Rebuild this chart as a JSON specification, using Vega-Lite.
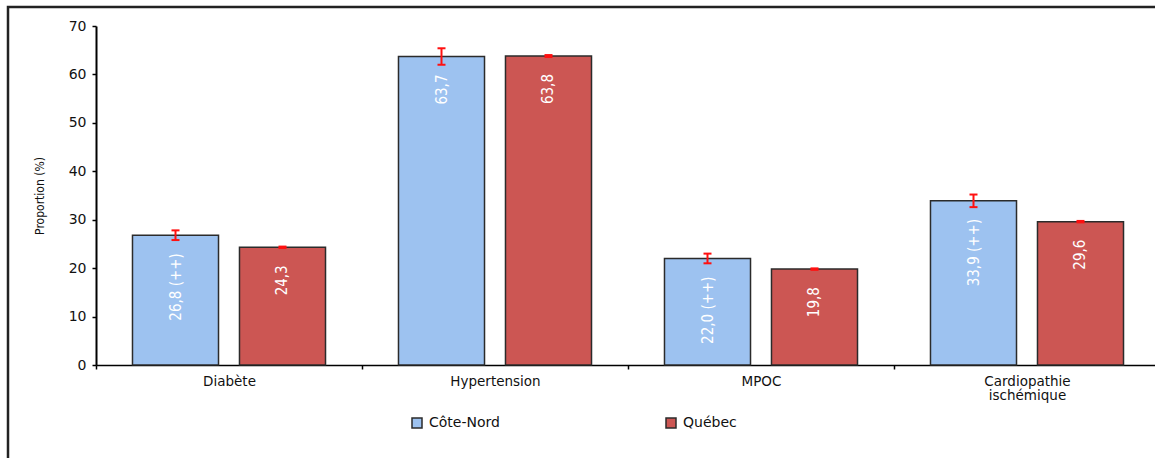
{
  "$schema": "https://vega.github.io/schema/vega-lite/v6.json",
  "width": 1160,
  "height": 460,
  "autosize": {"type": "none"},
  "padding": {"left": 8, "top": 7, "right": 0, "bottom": 0},
  "background": "white",
  "config": {
    "view": {"stroke": "#222222", "strokeWidth": 2.5},
    "legend": {"padding": 0}
  },
  "data": {
    "values": [
      {"cat": "Diabète", "region": "Côte-Nord", "value": 26.8, "lo": 25.8, "hi": 27.8, "label": "26,8 (++)"},
      {"cat": "Diabète", "region": "Québec", "value": 24.3, "lo": 24.15, "hi": 24.45, "label": "24,3"},
      {"cat": "Hypertension", "region": "Côte-Nord", "value": 63.7, "lo": 62.0, "hi": 65.4, "label": "63,7"},
      {"cat": "Hypertension", "region": "Québec", "value": 63.8, "lo": 63.6, "hi": 64.0, "label": "63,8"},
      {"cat": "MPOC", "region": "Côte-Nord", "value": 22.0, "lo": 21.0, "hi": 23.0, "label": "22,0 (++)"},
      {"cat": "MPOC", "region": "Québec", "value": 19.8, "lo": 19.65, "hi": 19.95, "label": "19,8"},
      {"cat": "Cardiopathie ischémique", "region": "Côte-Nord", "value": 33.9, "lo": 32.6, "hi": 35.2, "label": "33,9 (++)"},
      {"cat": "Cardiopathie ischémique", "region": "Québec", "value": 29.6, "lo": 29.45, "hi": 29.75, "label": "29,6"}
    ]
  },
  "encoding": {
    "x": {
      "field": "cat",
      "type": "nominal",
      "sort": null,
      "scale": {"range": [88, 1152], "paddingInner": 0, "paddingOuter": 0},
      "axis": {
        "offset": -102,
        "title": null,
        "labelAngle": 0,
        "tickBand": "extent",
        "domainColor": "#000000",
        "domainWidth": 1.5,
        "tickColor": "#000000",
        "tickSize": 4,
        "tickWidth": 1.5,
        "labelFont": "DejaVu Sans",
        "labelFontSize": 13.5,
        "labelColor": "#111111",
        "labelPadding": 5,
        "labelLineHeight": 14,
        "labelExpr": "datum.value == 'Cardiopathie ischémique' ? ['Cardiopathie', 'ischémique'] : datum.label"
      }
    },
    "xOffset": {
      "field": "region",
      "type": "nominal",
      "scale": {"paddingInner": 0.196, "paddingOuter": 0.341}
    }
  },
  "layer": [
    {
      "mark": {"type": "bar", "stroke": "#2b2b2b", "strokeWidth": 1.5},
      "encoding": {
        "y": {
          "field": "value",
          "type": "quantitative",
          "title": "Proportion (%)",
          "scale": {"domain": [0, 70], "range": [358, 19], "nice": false, "zero": true},
          "axis": {
            "offset": -88,
            "values": [0, 10, 20, 30, 40, 50, 60, 70],
            "grid": false,
            "domainColor": "#000000",
            "domainWidth": 2,
            "tickColor": "#000000",
            "tickSize": 4,
            "tickWidth": 1.5,
            "labelFont": "DejaVu Sans",
            "labelFontSize": 14,
            "labelColor": "#111111",
            "labelPadding": 6,
            "titleFont": "DejaVu Sans Condensed, Roboto, sans-serif",
            "titleFontSize": 12,
            "titleFontWeight": "normal",
            "titleColor": "#111111",
            "titlePadding": 22
          }
        },
        "color": {
          "field": "region",
          "type": "nominal",
          "scale": {"domain": ["Côte-Nord", "Québec"], "range": ["#9DC2F0", "#CC5653"]},
          "legend": {
            "orient": "none",
            "direction": "horizontal",
            "legendX": 402,
            "legendY": 409,
            "title": null,
            "symbolType": "square",
            "symbolSize": 100,
            "symbolStrokeColor": "#2b2b2b",
            "symbolStrokeWidth": 1.5,
            "symbolOpacity": 1,
            "labelFont": "DejaVu Sans",
            "labelFontSize": 14,
            "labelColor": "#111111",
            "labelOffset": 5,
            "columnPadding": 163
          }
        }
      }
    },
    {
      "mark": {"type": "rule", "color": "#FF1010", "strokeWidth": 2},
      "encoding": {
        "y": {"field": "lo", "type": "quantitative", "title": "Proportion (%)"},
        "y2": {"field": "hi"}
      }
    },
    {
      "mark": {"type": "tick", "color": "#FF1010", "thickness": 2, "size": 8, "opacity": 1},
      "encoding": {
        "y": {"field": "lo", "type": "quantitative", "title": "Proportion (%)"}
      }
    },
    {
      "mark": {"type": "tick", "color": "#FF1010", "thickness": 2, "size": 8, "opacity": 1},
      "encoding": {
        "y": {"field": "hi", "type": "quantitative", "title": "Proportion (%)"}
      }
    },
    {
      "mark": {
        "type": "text",
        "angle": 270,
        "align": "right",
        "baseline": "middle",
        "dx": -18,
        "color": "white",
        "font": "DejaVu Sans Condensed, Roboto, sans-serif",
        "fontSize": 15
      },
      "encoding": {
        "y": {"field": "value", "type": "quantitative", "title": "Proportion (%)"},
        "text": {"field": "label"}
      }
    }
  ]
}
